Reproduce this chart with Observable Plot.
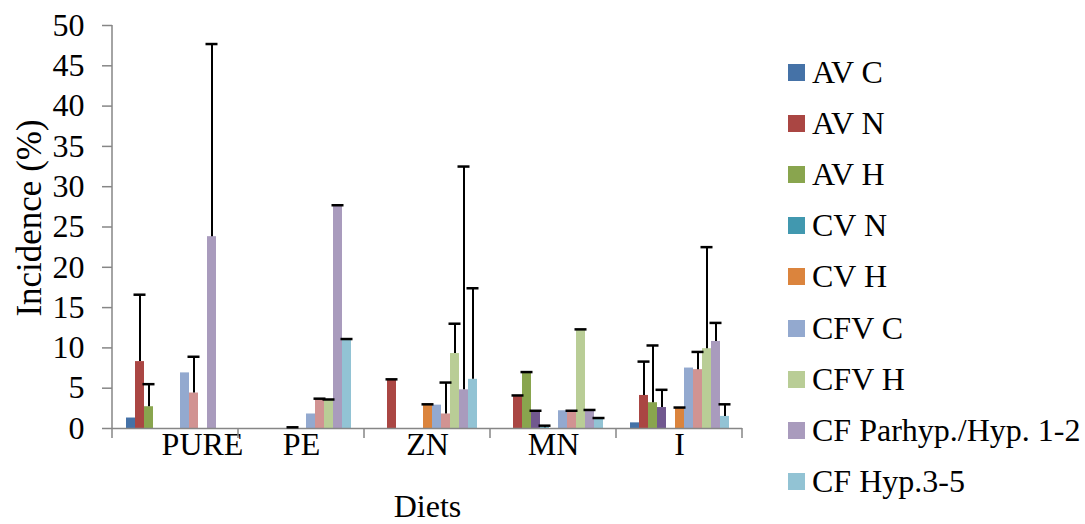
<!DOCTYPE html>
<html>
<head>
<meta charset="utf-8">
<script src="https://cdn.jsdelivr.net/npm/d3@7"></script>
<script src="https://cdn.jsdelivr.net/npm/@observablehq/plot@0.6"></script>
<style>
  body { margin: 0; background: #fff; }
  #wrap { display: flex; width: 1085px; height: 524px; font-family: "Liberation Serif", "DejaVu Serif", serif; }
  #legend { padding-top: 47px; }
  .item { display: flex; align-items: center; height: 51.1px; font-size: 32px; white-space: nowrap; color: #000; }
  .sw { width: 17px; height: 17px; margin-left: 18px; margin-right: 7px; flex: none; }
</style>
</head>
<body>
<div id="wrap"><div id="chart"></div><div id="legend"></div></div>
<script>
// Categories (diets)
const groups = ["PURE", "PE", "ZN", "MN", "I"];
// Series (bar order within each diet)
const series = ["AV C", "AV N", "AV H", "CV C", "CV N", "CV H", "CFV C", "CFV N", "CFV H", "CF Parhyp./Hyp. 1-2", "CF Hyp.3-5"];
const colors = ["#4572A7", "#AA4643", "#89A54E", "#71588F", "#4198AF", "#DB843D", "#93A9CF", "#D19392", "#B9CD96", "#A99BBD", "#92C3D4"];
// Legend entries shown in the original
const legendSeries = ["AV C", "AV N", "AV H", "CV N", "CV H", "CFV C", "CFV H", "CF Parhyp./Hyp. 1-2", "CF Hyp.3-5"];
const yTicks = [0, 5, 10, 15, 20, 25, 30, 35, 40, 45, 50];

// Incidence (%) per diet, in series order
const pureValues = [1.3, 8.3, 2.7, 0, 0, 0, 6.9, 4.4, 0, 23.8, 0];
const peValues   = [0, 0, 0, 0, 0, 0, 1.8, 3.6, 3.5, 27.6, 11.1];
const znValues   = [0, 6.1, 0, 0, 0, 3.0, 2.9, 1.8, 9.3, 4.8, 6.1];
const mnValues   = [0, 4.1, 7.0, 2.2, 0.1, 0, 2.2, 2.2, 12.3, 2.3, 1.3];
const iValues    = [0.7, 4.1, 3.2, 2.6, 0, 2.6, 7.5, 7.3, 9.9, 10.8, 1.5];

// Upper end of error bars (null = no error bar)
const pureUpper = [null, 16.6, 5.5, null, null, null, null, 8.9, null, 47.7, null];
const peUpper   = [null, null, null, null, 0.15, null, null, 3.7, 3.6, 27.7, 11.1];
const znUpper   = [null, 6.1, null, null, null, 3.0, null, 5.7, 13.0, 32.5, 17.4];
const mnUpper   = [null, 4.1, 7.0, 2.2, 0.35, null, null, 2.2, 12.3, 2.3, 1.3];
const iUpper    = [null, 8.3, 10.3, 4.8, null, 2.6, null, 9.5, 22.5, 13.1, 3.0];

const valueLists = [pureValues, peValues, znValues, mnValues, iValues];
const upperLists = [pureUpper, peUpper, znUpper, mnUpper, iUpper];

const rows = [];
groups.forEach((g, gi) => series.forEach((s, si) => {
  rows.push({group: g, series: s, value: valueLists[gi][si], upper: upperLists[gi][si]});
}));
const errRows = rows.filter(d => d.upper != null);

const chart = Plot.plot({
  width: 770,
  height: 524,
  marginLeft: 110,
  marginRight: 26,
  marginTop: 25,
  marginBottom: 96,
  style: {fontFamily: '"Liberation Serif", "DejaVu Serif", serif', fontSize: "32px", color: "black", background: "white", overflow: "visible"},
  fx: {domain: groups, padding: 0, label: null},
  x: {domain: series, paddingInner: 0, paddingOuter: 0.85, axis: null},
  y: {domain: [0, 50], label: null},
  color: {domain: series, range: colors},
  marks: [
    Plot.axisY({ticks: yTicks, tickSize: 10, tickPadding: 18, stroke: "#868686", strokeWidth: 1.5, fill: "black",
      label: "Incidence (%)", labelAnchor: "center", labelOffset: 96, labelArrow: "none"}),
    Plot.axisFx({anchor: "bottom", tickSize: 0, tickPadding: 4, fill: "black", label: "Diets", labelAnchor: "center", labelOffset: 88}),
    Plot.barY(rows, {fx: "group", x: "series", y: "value", fill: "series"}),
    Plot.ruleY([0], {stroke: "#868686", strokeWidth: 1.5}),
    Plot.ruleX(errRows, {fx: "group", x: "series", y1: "value", y2: "upper", stroke: "black", strokeWidth: 2}),
    Plot.tickY(errRows, {fx: "group", x: "series", y: "upper", stroke: "black", strokeWidth: 2.5, insetLeft: -1.5, insetRight: -1.5})
  ]
});

// Axis line and category boundary ticks, placed with the plot's own scales
const fxS = chart.scale("fx"), yS = chart.scale("y");
const svg = d3.select(chart);
const y0 = yS.apply(0), yTop = yS.apply(50);
const left = fxS.apply(groups[0]);
const bounds = groups.map(g => fxS.apply(g)).concat([fxS.apply(groups[groups.length - 1]) + fxS.bandwidth]);
const g = svg.append("g").attr("stroke", "#868686").attr("stroke-width", 1.5);
g.append("line").attr("x1", left).attr("x2", left).attr("y1", yTop).attr("y2", y0);
bounds.forEach(b => g.append("line").attr("x1", b).attr("x2", b).attr("y1", y0).attr("y2", y0 + 10));
// slightly larger y-axis title, as in the original
svg.selectAll('[aria-label="y-axis label"] text').attr("font-size", 35).attr("dx", 9);
// the original shows the first diet label shifted right
svg.selectAll("text").filter(function () { return this.textContent === groups[0]; }).attr("dx", 27);

document.getElementById("chart").appendChild(chart);

// Legend
const legend = document.getElementById("legend");
legendSeries.forEach(s => {
  const item = document.createElement("div");
  item.className = "item";
  const sw = document.createElement("span");
  sw.className = "sw";
  sw.style.background = colors[series.indexOf(s)];
  const t = document.createElement("span");
  t.textContent = s;
  item.appendChild(sw);
  item.appendChild(t);
  legend.appendChild(item);
});
</script>
</body>
</html>
